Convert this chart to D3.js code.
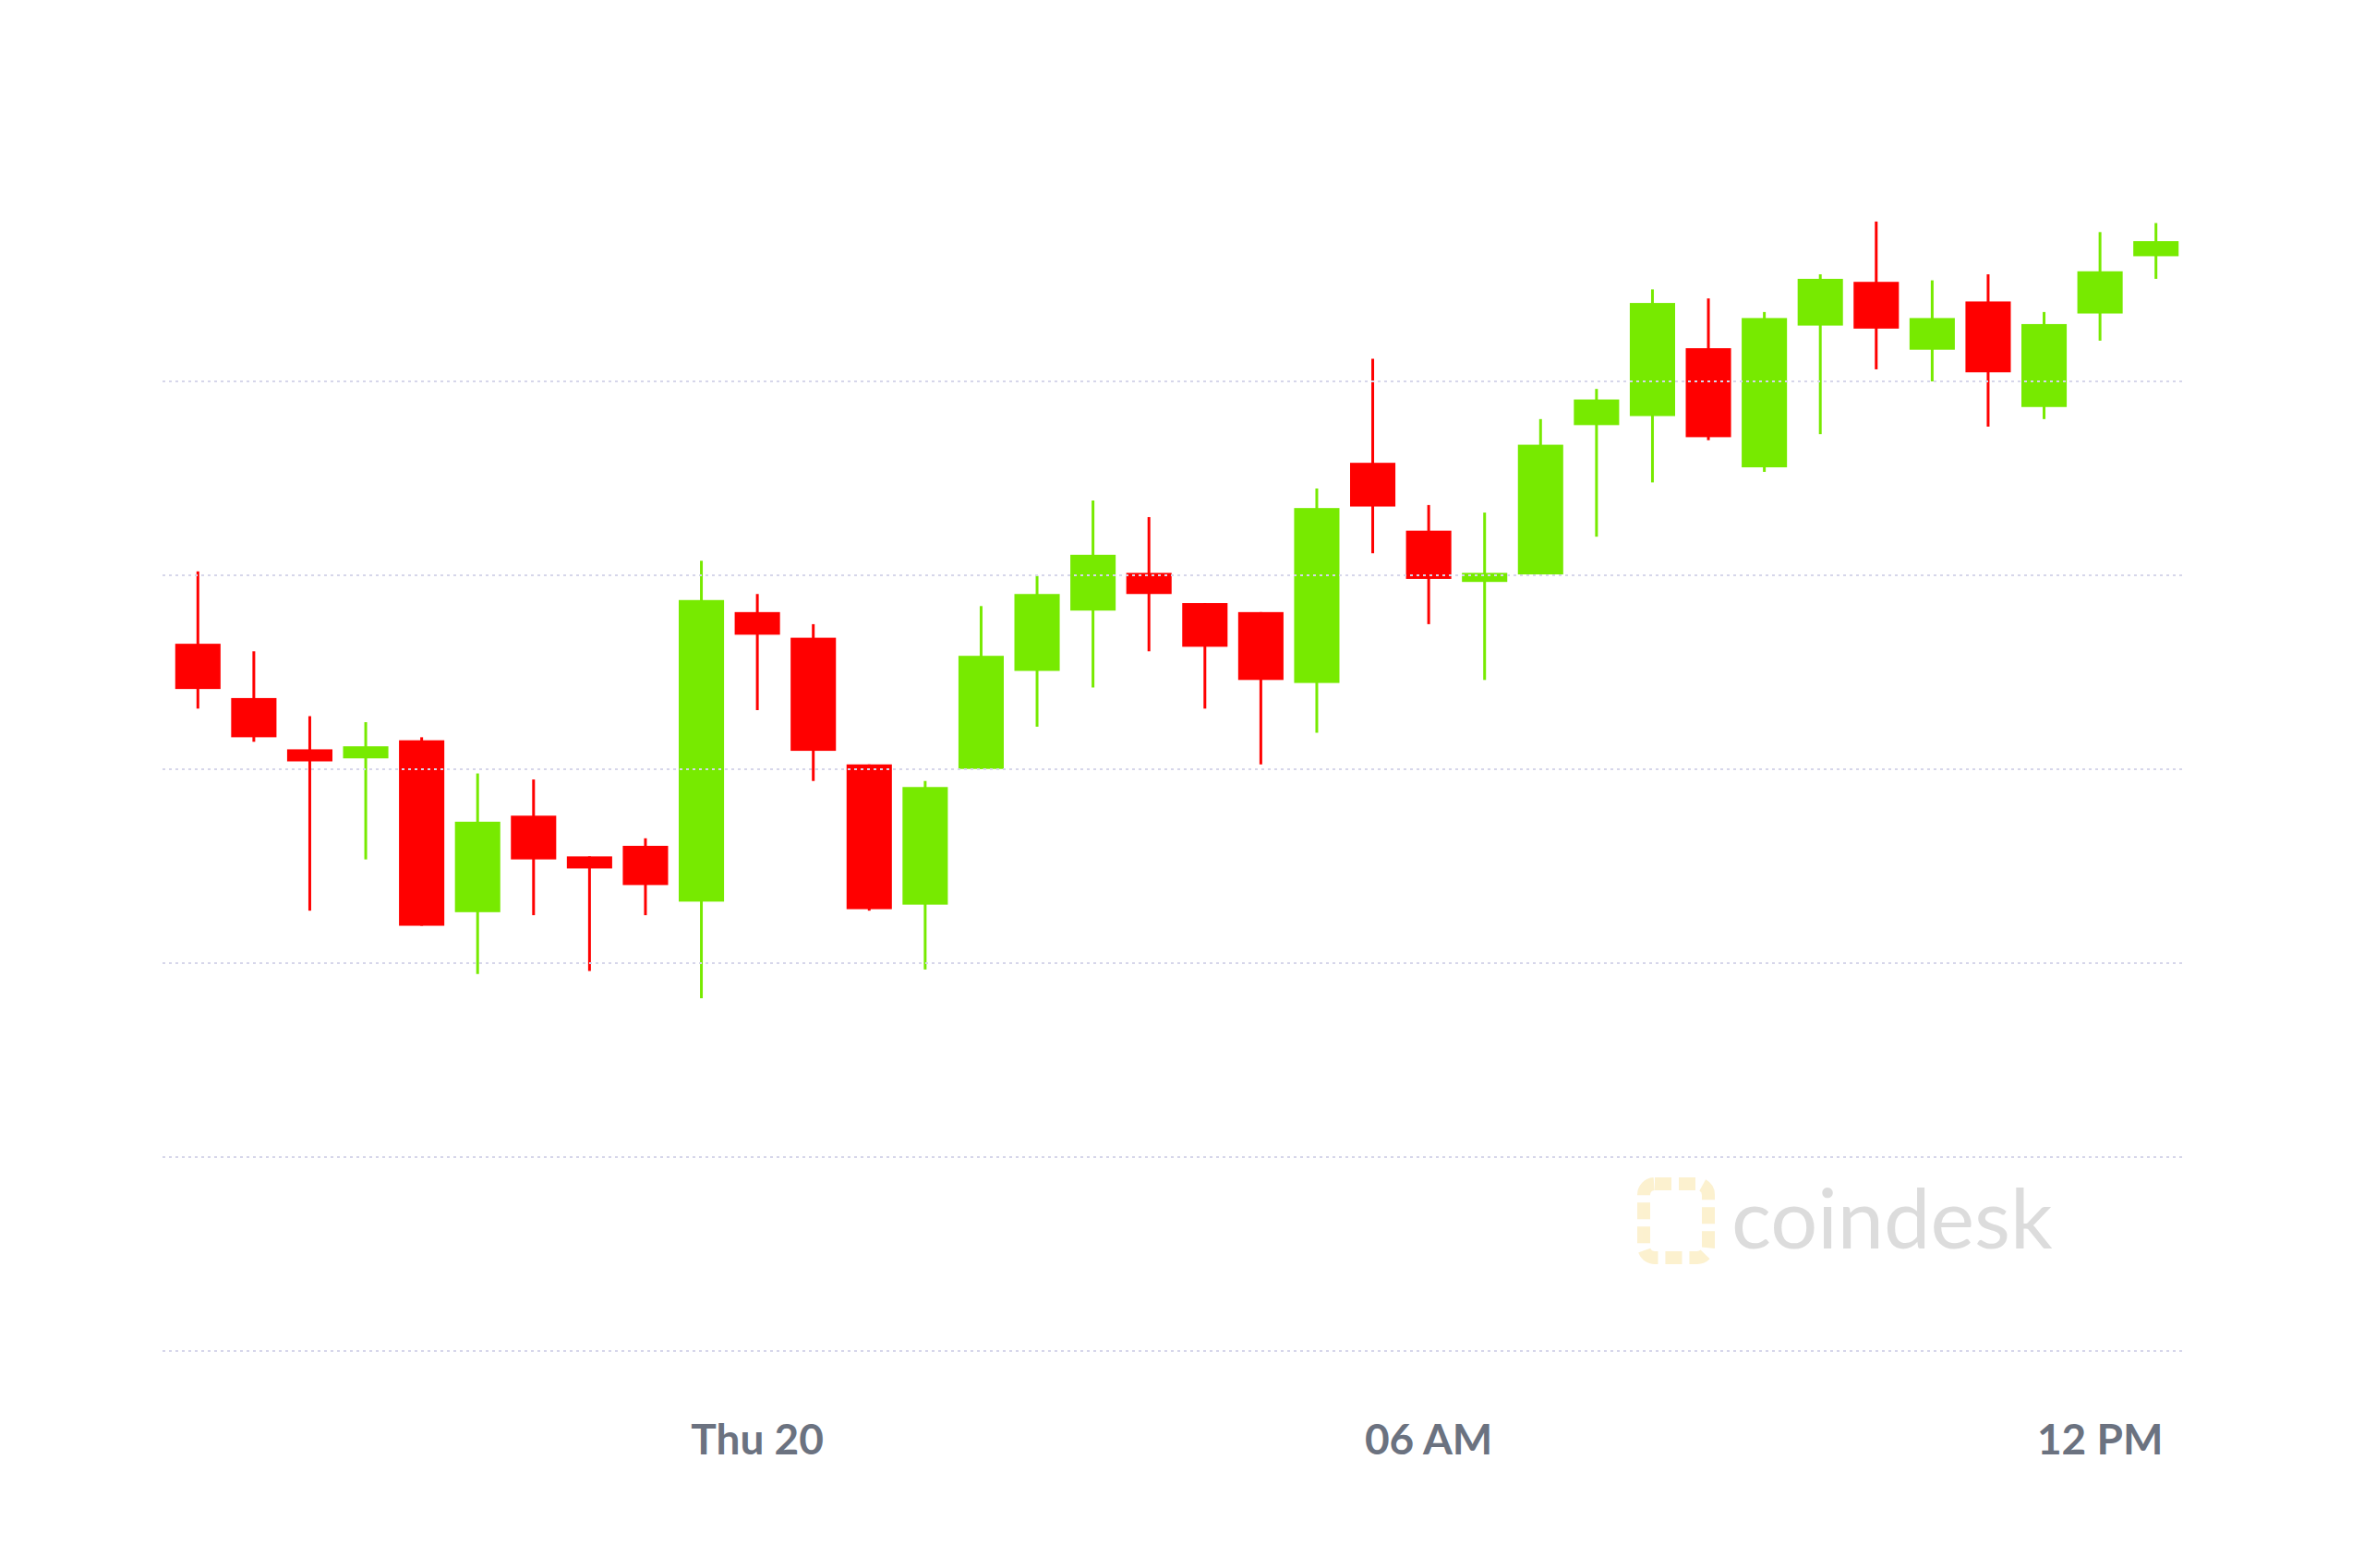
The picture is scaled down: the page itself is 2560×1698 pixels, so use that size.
<!DOCTYPE html>
<html><head><meta charset="utf-8">
<script src="https://cdn.jsdelivr.net/npm/d3@7"></script>
<style>body{margin:0;background:#fff}</style></head>
<body><svg id="c" width="2560" height="1698"></svg>
<script>
const opens  = [469,433,399,393,405,291,355,328,335,298,490,473,389,296,386,451,491,516,496,490,443,589,544,510,515,614,620,665,586,680,709,664,696,626,688,726];
const closes = [439,407,391,401,282,351,326,320,309,498,475,398,293,374,461,502,528,502,467,445,559,560,512,516,601,631,695,606,685,711,678,685,649,681,716,736];
const highs  = [517,464,421,417,407,383,379,328,340,524,502,482,389,378,494,514,564,553,496,490,572,658,561,556,618,638,704,698,689,714,749,710,714,689,742,748];
const lows   = [426,404,292,326,282,250,289,252,289,234,425,378,292,253,386,414,440,464,426,389,410,529,482,445,515,540,576,604,583,608,651,643,613,618,670,711];
const gridValues = [0,128.6,257.2,385.8,514.4,643];
const xLabels = [{i:10,t:"Thu 20"},{i:22,t:"06 AM"},{i:34,t:"12 PM"}];

const svg = d3.select("#c");
const x = d3.scaleBand().domain(d3.range(opens.length)).range([184,2365]).paddingInner(0.19).paddingOuter(0.095);
const y = d3.scaleLinear().domain([0,643]).range([1463,413]);

const wm = svg.append("g").attr("opacity",0.25);
wm.append("text").attr("x",1875).attr("y",1352).attr("font-family","Lato, sans-serif").attr("font-size",90).attr("fill","#777").text("coindesk");
wm.append("rect").attr("x",1780).attr("y",1282).attr("width",70).attr("height",80).attr("fill","none").attr("stroke","#f5c842").attr("stroke-width",14).attr("stroke-dasharray","18 8").attr("rx",12);

const data = opens.map((o,i)=>({i,o,c:closes[i],h:highs[i],l:lows[i]}));
const col = d => d.c>=d.o ? "#77ea00" : "#ff0000";
const g = svg.append("g");
g.selectAll("line.w").data(data).join("line")
 .attr("x1",d=>x(d.i)+x.bandwidth()/2).attr("x2",d=>x(d.i)+x.bandwidth()/2)
 .attr("y1",d=>y(d.h)).attr("y2",d=>y(d.l)).attr("stroke",col).attr("stroke-width",3);
g.selectAll("rect").data(data).join("rect")
 .attr("x",d=>x(d.i)).attr("width",x.bandwidth())
 .attr("y",d=>y(Math.max(d.o,d.c))).attr("height",d=>Math.max(5,Math.abs(y(d.o)-y(d.c))))
 .attr("fill",col);

svg.append("g").selectAll("line").data(gridValues).join("line")
 .attr("x1",176).attr("x2",2367).attr("y1",d=>y(d)).attr("y2",d=>y(d))
 .attr("stroke","#d6d6ea").attr("stroke-width",2).attr("stroke-dasharray","3 4");

svg.append("g").selectAll("text").data(xLabels).join("text")
 .attr("x",d=>x(d.i)+x.bandwidth()/2).attr("y",1575).attr("text-anchor","middle")
 .attr("font-family","Lato, 'Open Sans', sans-serif").attr("font-weight","bold").attr("font-size",46)
 .attr("fill","#6b7280").text(d=>d.t);
</script></body></html>
